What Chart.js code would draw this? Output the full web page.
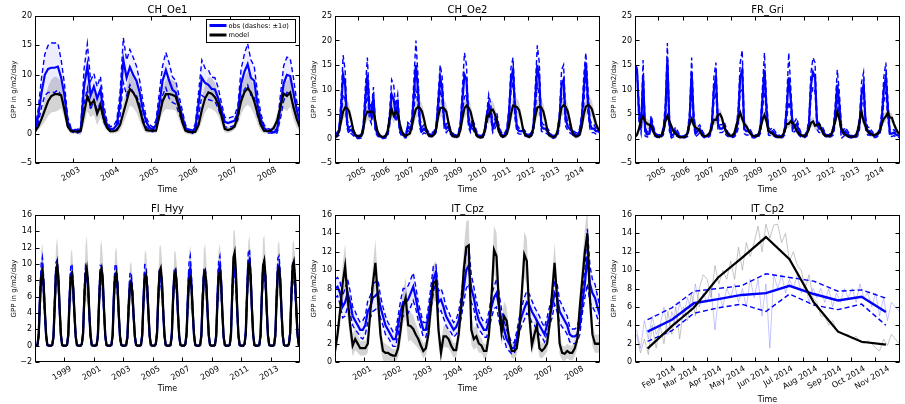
<!DOCTYPE html>
<html>
<head>
<meta charset="utf-8">
<script src="https://cdn.jsdelivr.net/npm/chart.js@4.4.1/dist/chart.umd.min.js"></script>
<style>
  body { margin: 0; background: #fff; width: 905px; height: 404px; overflow: hidden; position: relative; }
  canvas { position: absolute; }
</style>
</head>
<body>
<canvas id="c1"></canvas>
<canvas id="c2"></canvas>
<canvas id="c3"></canvas>
<canvas id="c4"></canvas>
<canvas id="c5"></canvas>
<canvas id="c6"></canvas>
<script>
// ---- CH_Oe1: monthly GPP, Jan 2002 - Oct 2008 ----
const oe1Years = [2003, 2004, 2005, 2006, 2007, 2008];
const oe1Model = [
  0.4,1.2,2.5,4.0,5.5,6.4,6.7,6.7,6.5,4.0,1.2,0.4,
  0.4,0.3,0.5,3.5,6.3,5.0,5.6,3.4,4.8,2.5,1.0,0.4,
  0.4,0.6,1.5,3.5,5.5,7.6,7.0,6.0,4.2,2.0,0.6,0.5,
  0.5,0.5,3.0,5.5,6.7,6.7,6.6,6.3,4.5,2.0,0.5,0.3,
  0.2,0.3,1.5,4.0,6.0,7.0,6.8,6.2,5.0,3.0,0.8,0.6,
  0.8,1.2,3.0,5.5,7.0,7.7,7.0,5.5,3.5,1.5,0.5,0.4,
  0.5,1.0,2.2,4.5,6.8,6.4,7.0,4.5,2.5,1.0
];
const oe1Obs = [
  0.5,3.0,7.0,10.0,11.0,11.2,11.2,11.4,9.5,6.5,2.0,0.7,
  0.4,0.4,0.8,8.0,11.5,6.5,8.0,6.0,7.5,3.5,1.5,0.8,
  0.8,1.5,5.0,12.5,9.5,11.3,10.0,9.0,7.0,4.0,2.0,1.0,
  0.7,1.5,5.0,9.0,10.8,9.0,7.5,7.0,5.0,3.0,1.0,0.5,
  0.3,1.0,5.0,9.5,8.6,8.3,7.6,7.5,6.0,4.0,2.0,1.8,
  2.0,2.2,3.5,8.5,10.5,11.8,9.5,9.0,5.0,2.5,1.0,0.5,
  0.4,0.2,0.5,4.5,8.5,10.0,9.8,7.0,4.0,2.0
];
const oe1Sd = [
  0.4,1.2,2.5,3.5,4.0,4.2,4.2,4.0,3.0,2.0,0.8,0.3,
  0.3,0.3,0.5,3.0,3.8,2.5,2.2,2.0,2.2,1.5,0.6,0.4,
  0.5,0.8,2.0,3.8,3.0,3.0,3.0,2.5,2.0,1.5,0.8,0.5,
  0.4,0.8,2.0,2.5,3.0,3.0,2.2,2.0,1.5,1.0,0.5,0.3,
  0.3,0.6,2.0,3.0,2.5,2.5,2.0,2.0,1.8,1.2,0.8,0.8,
  0.8,0.8,1.2,2.5,3.0,3.5,3.0,2.5,2.0,1.0,0.5,0.4,
  0.3,0.2,0.4,2.0,3.0,3.0,3.0,2.5,1.5,1.0
];
const oe1Spread = [
  0.4,0.6,1.2,2.0,2.5,2.8,3.0,2.8,2.2,1.4,0.6,0.4,
  0.4,0.4,0.8,2.0,2.5,2.2,2.4,2.0,2.0,1.2,0.5,0.4,
  0.4,0.5,1.0,1.8,2.4,2.8,2.6,2.4,2.0,1.2,0.5,0.4,
  0.4,0.5,1.2,2.0,2.5,2.6,2.5,2.4,2.0,1.2,0.5,0.4,
  0.3,0.4,1.0,2.0,2.4,2.6,2.6,2.4,2.0,1.5,0.6,0.5,
  0.5,0.6,1.4,2.2,2.6,2.8,2.6,2.2,1.8,1.0,0.5,0.4,
  0.4,0.6,1.2,2.2,2.5,2.6,2.4,2.0,1.5,0.8
];

// ---- CH_Oe2: monthly GPP, Jan 2004 - Dec 2014 ----
const oe2Years = [2005, 2006, 2007, 2008, 2009, 2010, 2011, 2012, 2013, 2014];
const oe2Model = [
  0.3,0.5,1.5,3.5,5.5,6.3,6.2,5.5,3.8,1.8,0.8,0.5,
  0.4,0.6,2.0,4.5,5.5,5.4,5.5,5.3,3.5,1.5,0.6,0.4,
  0.3,0.5,1.5,4.0,6.0,4.7,5.5,5.0,3.0,1.5,0.7,0.5,
  0.8,1.0,2.5,4.5,6.0,6.4,6.2,5.5,4.0,2.0,0.8,0.5,
  0.5,0.8,2.0,4.5,6.2,6.3,6.1,5.5,3.5,1.5,0.6,0.4,
  0.4,0.5,1.8,4.2,6.2,6.7,6.3,5.5,3.8,1.8,0.6,0.3,
  0.2,0.3,1.5,4.6,4.5,5.8,5.9,5.0,3.5,1.5,0.6,0.4,
  0.5,1.0,2.5,5.0,6.7,6.6,6.4,5.8,4.0,1.8,0.7,0.5,
  0.3,0.6,2.0,4.5,6.3,6.5,6.3,5.5,3.8,1.6,0.6,0.4,
  0.3,0.5,1.5,4.0,6.3,6.8,6.5,5.6,3.8,1.8,0.7,0.4,
  0.5,0.8,2.5,5.0,6.5,6.8,6.6,6.0,4.5,3.0,2.0,1.5
];
const oe2Obs = [
  0.5,0.8,1.5,6.0,13.0,11.0,3.0,1.5,1.8,1.2,0.6,0.3,
  0.3,0.5,2.0,8.0,13.0,6.0,4.5,8.5,2.0,1.0,0.5,0.3,
  0.2,0.4,1.0,4.0,9.0,8.0,5.0,7.0,2.0,1.0,0.6,0.4,
  2.5,2.0,3.0,9.0,15.0,10.0,3.0,1.5,2.0,1.5,1.0,0.8,
  0.8,1.0,2.0,7.0,12.5,10.0,3.0,2.0,2.5,1.5,0.8,0.5,
  0.5,0.8,2.5,8.0,13.0,12.0,3.5,2.0,3.0,2.0,1.0,0.5,
  0.3,0.5,1.5,4.0,7.0,5.5,2.0,3.0,4.0,2.0,1.0,0.5,
  0.8,1.5,5.0,12.0,14.0,6.0,2.0,1.5,1.5,1.5,1.0,0.8,
  0.5,0.8,2.0,8.0,15.0,12.0,2.5,2.0,2.0,1.5,1.0,0.5,
  0.3,0.5,1.0,4.0,11.0,12.0,4.0,2.5,2.0,1.5,1.0,0.8,
  0.8,1.5,4.0,10.0,15.5,8.0,3.0,2.0,2.0,1.5,1.5,1.2
];
const oe2Sd = [
  0.3,0.4,0.8,2.0,4.0,3.0,1.0,0.7,0.8,0.6,0.4,0.3,
  0.3,0.4,0.8,2.5,3.5,2.0,1.5,2.0,0.8,0.5,0.3,0.3,
  0.2,0.3,0.6,1.5,3.0,3.0,1.5,2.0,0.8,0.5,0.4,0.3,
  0.8,0.8,1.2,3.0,5.0,3.0,1.0,0.8,0.8,0.6,0.5,0.4,
  0.4,0.5,0.8,2.0,2.5,2.5,1.0,0.8,0.8,0.6,0.4,0.3,
  0.3,0.4,1.0,2.5,4.5,3.0,1.2,0.8,1.0,0.8,0.5,0.3,
  0.3,0.3,0.6,1.2,2.0,1.5,0.8,1.0,1.2,0.8,0.5,0.3,
  0.4,0.6,1.5,2.5,2.5,2.0,0.8,0.6,0.6,0.6,0.5,0.4,
  0.3,0.4,0.8,2.5,4.0,3.5,1.0,0.8,0.8,0.6,0.5,0.3,
  0.3,0.3,0.5,1.5,3.0,3.0,1.5,0.8,0.8,0.6,0.5,0.4,
  0.4,0.6,1.5,3.0,2.0,2.5,1.0,0.8,0.8,0.6,0.6,0.5
];
const oe2Spread = [
  0.4,0.5,1.0,1.5,1.8,1.8,1.8,1.6,1.3,0.9,0.5,0.4,
  0.4,0.5,1.1,1.6,1.8,1.7,1.8,1.6,1.2,0.8,0.5,0.4,
  0.3,0.5,1.0,1.5,1.9,1.6,1.7,1.5,1.2,0.8,0.5,0.4,
  0.5,0.6,1.2,1.6,1.8,1.9,1.8,1.6,1.3,0.9,0.5,0.4,
  0.4,0.5,1.0,1.5,1.8,1.8,1.8,1.6,1.2,0.8,0.5,0.4,
  0.4,0.5,1.0,1.6,1.9,1.9,1.8,1.6,1.3,0.9,0.5,0.3,
  0.3,0.4,1.0,1.5,1.6,1.8,1.8,1.5,1.2,0.8,0.5,0.4,
  0.4,0.6,1.2,1.6,1.9,1.9,1.8,1.7,1.3,0.9,0.5,0.4,
  0.4,0.5,1.0,1.5,1.8,1.8,1.8,1.6,1.3,0.8,0.5,0.4,
  0.3,0.5,1.0,1.5,1.8,1.9,1.8,1.6,1.3,0.9,0.5,0.4,
  0.4,0.6,1.2,1.6,1.9,1.9,1.8,1.7,1.4,1.0,0.8,0.6
];

// ---- FR_Gri: monthly GPP, Jan 2004 - Dec 2014 ----
const griYears = [2005, 2006, 2007, 2008, 2009, 2010, 2011, 2012, 2013, 2014];
const griModel = [
  0.3,0.8,2.0,3.8,4.5,3.5,3.0,2.8,2.5,1.5,0.6,0.4,
  0.3,0.6,1.5,3.5,4.6,3.5,2.5,1.5,1.0,0.6,0.3,0.3,
  0.3,0.4,1.2,3.0,4.0,2.8,2.2,2.0,1.5,0.8,0.5,0.5,
  0.7,1.2,2.5,3.8,3.8,4.8,5.0,4.2,2.5,1.5,0.8,0.6,
  0.6,1.0,2.5,4.0,5.3,4.0,3.0,2.5,1.8,1.0,0.6,0.5,
  0.4,0.8,2.0,3.8,4.8,3.5,1.5,1.2,1.0,0.6,0.4,0.3,
  0.3,0.6,1.5,3.0,3.0,3.5,3.2,2.5,1.5,1.0,0.7,0.5,
  0.5,1.0,2.0,3.2,3.5,2.6,2.8,3.0,2.0,1.0,0.6,0.5,
  0.5,0.8,2.0,3.5,5.5,4.0,2.0,1.2,0.8,0.5,0.4,0.4,
  0.4,0.5,1.5,3.5,5.5,3.5,2.5,1.5,1.0,0.8,0.6,0.8,
  1.0,1.5,3.0,4.0,4.5,5.3,4.3,4.2,3.0,2.0,1.2,0.8
];
const griObs = [
  14.5,14.0,5.0,2.0,12.5,1.5,0.8,1.0,3.5,2.0,0.8,0.5,
  0.5,0.6,1.5,5.0,16.0,3.0,0.5,0.8,1.5,1.0,0.5,0.3,
  0.3,0.5,1.0,4.0,13.5,4.0,1.0,1.5,2.0,1.2,0.6,0.4,
  0.5,0.8,3.0,10.0,12.5,3.0,2.0,2.0,2.5,1.5,0.8,0.5,
  0.5,0.6,1.5,4.0,12.5,14.0,2.0,1.5,1.5,1.2,0.6,0.4,
  0.5,0.6,2.0,8.0,14.0,6.0,1.5,1.2,1.5,1.0,0.6,0.5,
  0.3,0.5,1.5,6.0,12.5,8.0,2.0,2.5,3.0,1.5,0.8,0.5,
  0.5,1.0,3.0,11.0,13.5,12.5,3.0,2.0,2.0,1.5,0.8,0.5,
  0.5,0.8,1.5,5.0,11.0,7.0,1.5,1.0,1.5,1.0,0.6,0.4,
  0.3,0.5,1.0,3.0,9.0,11.0,3.0,1.5,1.5,1.0,0.6,0.5,
  0.8,1.5,4.0,10.0,12.5,6.0,1.0,1.0,1.2,0.8,0.6,0.5
];
const griSd = [
  0.5,0.5,2.0,1.0,3.5,1.0,0.5,0.6,1.2,0.8,0.4,0.3,
  0.3,0.3,0.8,2.0,3.5,1.5,0.4,0.5,0.8,0.6,0.3,0.2,
  0.2,0.3,0.6,1.5,3.0,1.5,0.6,0.8,0.8,0.6,0.4,0.3,
  0.3,0.4,1.2,2.5,3.0,1.2,0.8,0.8,1.0,0.8,0.4,0.3,
  0.3,0.3,0.8,2.0,3.0,4.0,1.0,0.8,0.8,0.6,0.4,0.3,
  0.3,0.3,1.0,2.5,3.5,2.0,0.8,0.6,0.8,0.6,0.4,0.3,
  0.2,0.3,0.8,2.0,5.0,2.5,1.0,1.0,1.2,0.8,0.5,0.3,
  0.3,0.5,1.2,2.5,3.0,3.0,1.2,0.8,0.8,0.6,0.4,0.3,
  0.3,0.4,0.8,2.0,3.0,2.5,1.5,0.6,0.8,0.6,0.4,0.3,
  0.2,0.3,0.6,1.2,2.5,2.5,1.2,0.8,0.8,0.6,0.4,0.3,
  0.4,0.6,1.5,2.5,3.0,2.0,0.6,0.6,0.6,0.5,0.4,0.3
];
const griSpread = [
  0.3,0.4,0.7,0.9,1.0,1.0,1.0,0.9,0.8,0.6,0.4,0.3,
  0.3,0.4,0.6,0.9,1.0,0.9,0.8,0.7,0.6,0.4,0.3,0.3,
  0.3,0.3,0.6,0.8,1.0,0.9,0.8,0.8,0.6,0.4,0.3,0.3,
  0.4,0.5,0.8,1.0,1.0,1.1,1.1,1.0,0.8,0.6,0.4,0.4,
  0.4,0.5,0.8,1.0,1.1,1.0,0.9,0.8,0.7,0.5,0.4,0.3,
  0.3,0.4,0.7,1.0,1.0,0.9,0.7,0.6,0.5,0.4,0.3,0.3,
  0.3,0.4,0.6,0.9,0.9,1.0,1.0,0.9,0.7,0.5,0.4,0.3,
  0.3,0.5,0.7,0.9,1.0,0.9,0.9,0.9,0.7,0.5,0.4,0.3,
  0.3,0.4,0.7,1.0,1.1,1.0,0.8,0.6,0.5,0.4,0.3,0.3,
  0.3,0.4,0.6,0.9,1.1,1.0,0.8,0.6,0.5,0.4,0.4,0.4,
  0.5,0.6,0.9,1.0,1.0,1.1,1.0,1.0,0.8,0.6,0.5,0.4
];

// ---- FI_Hyy: monthly GPP, Jan 1997 - Dec 2014 ----
const hyyYears = [1999, 2001, 2003, 2005, 2007, 2009, 2011, 2013];
const hyyModel = [
  0,0,0.1,1.2,5.3,8.4,9.0,7.6,4.3,1.4,0.1,0,
  0,0,0.1,1.0,4.8,8.8,9.9,8.4,4.6,1.4,0.1,0,
  0,0,0.1,1.2,5.3,8.3,8.7,7.2,4.0,1.2,0.1,0,
  0,0,0.2,1.4,5.8,8.8,9.5,7.9,4.3,1.4,0.1,0,
  0,0,0.1,1.1,5.3,9.0,9.5,8.2,4.4,1.3,0.1,0,
  0,0,0.1,1.2,5.8,8.5,8.9,7.4,3.8,1.1,0.1,0,
  0,0,0.1,1.0,4.6,7.3,7.7,6.6,3.8,1.2,0.1,0,
  0,0,0.1,1.2,5.3,8.3,8.7,7.4,4.2,1.3,0.1,0,
  0,0,0.2,1.4,5.8,9.1,9.5,8.0,4.4,1.4,0.1,0,
  0,0,0.1,1.2,5.4,8.7,9.1,7.6,4.0,1.2,0.1,0,
  0,0,0.2,1.4,5.3,8.0,8.3,7.2,4.1,1.4,0.1,0,
  0,0,0.1,1.2,5.4,8.7,9.1,7.8,4.3,1.3,0.1,0,
  0,0,0.1,1.1,5.2,8.5,9.0,7.7,4.1,1.2,0.1,0,
  0,0,0.1,1.3,6.3,10.8,11.4,9.2,4.8,1.4,0.1,0,
  0,0,0.2,1.4,5.8,9.5,10.1,8.4,4.6,1.4,0.1,0,
  0,0,0.1,1.2,5.8,9.8,10.4,8.6,4.6,1.3,0.1,0,
  0,0,0.1,1.2,5.6,9.1,9.5,8.0,4.3,1.3,0.1,0,
  0,0,0.2,1.4,6.0,9.8,10.3,8.4,4.6,1.4,0.1,0
];
const hyyObs = [
  0,0,0.1,1.4,5.8,8.8,9.5,7.4,4.0,1.2,0.1,0,
  0,0,0.1,1.2,5.3,9.1,9.5,7.9,4.3,1.3,0.1,0,
  0,0,0.1,1.4,5.8,8.8,9.0,6.9,3.8,1.1,0.1,0,
  0,0,0.2,1.6,6.0,8.8,8.8,7.4,4.0,1.3,0.1,0,
  0,0,0.1,1.2,5.6,8.8,9.0,7.6,4.2,1.2,0.1,0,
  0,0,0.1,1.4,6.3,8.8,8.8,7.2,3.6,1.0,0.1,0,
  0,0,0.1,1.2,5.0,7.8,8.0,6.4,3.6,1.1,0.1,0,
  0,0,0.1,1.4,5.6,8.8,8.8,7.2,4.0,1.2,0.1,0,
  0,0,0.2,1.6,6.0,8.5,8.5,7.4,4.2,1.3,0.1,0,
  0,0,0.1,1.4,5.8,8.5,8.5,7.2,3.8,1.1,0.1,0,
  0,0,0.2,1.6,5.8,9.1,9.5,7.4,4.0,1.3,0.1,0,
  0,0,0.1,1.4,5.8,8.5,8.5,7.4,4.1,1.2,0.1,0,
  0,0,0.1,1.3,5.8,9.3,9.8,7.9,4.0,1.1,0.1,0,
  0,0,0.1,1.5,6.3,9.3,9.5,8.2,4.4,1.3,0.1,0,
  0,0,0.2,1.6,6.3,10.1,10.5,8.4,4.4,1.3,0.1,0,
  0,0,0.1,1.4,6.0,9.3,9.5,8.0,4.3,1.2,0.1,0,
  0,0,0.1,1.4,6.0,9.5,9.8,7.9,4.1,1.2,0.1,0,
  0,0,0.2,1.6,6.3,9.1,9.0,7.6,4.3,1.3,0.1,0
];
const hyySd = [
  0,0,0.1,0.4,1.0,1.2,1.3,1.0,0.6,0.3,0.1,0,
  0,0,0.1,0.4,1.0,1.1,1.0,1.0,0.6,0.3,0.1,0,
  0,0,0.1,0.4,0.9,1.0,1.0,0.9,0.5,0.3,0.1,0,
  0,0,0.1,0.5,1.0,1.0,0.6,0.9,0.6,0.3,0.1,0,
  0,0,0.1,0.4,1.0,1.0,0.7,1.0,0.6,0.3,0.1,0,
  0,0,0.1,0.4,1.0,1.2,1.0,0.9,0.5,0.3,0.1,0,
  0,0,0.1,0.4,0.9,1.0,1.0,0.8,0.5,0.3,0.1,0,
  0,0,0.1,0.4,1.0,1.1,1.0,0.9,0.6,0.3,0.1,0,
  0,0,0.1,0.5,1.0,1.0,1.0,1.0,0.6,0.3,0.1,0,
  0,0,0.1,0.4,1.0,1.0,1.0,0.9,0.5,0.3,0.1,0,
  0,0,0.1,0.5,1.0,1.2,1.5,1.0,0.6,0.3,0.1,0,
  0,0,0.1,0.4,1.0,1.0,1.0,0.9,0.6,0.3,0.1,0,
  0,0,0.1,0.4,1.0,1.2,1.2,1.0,0.5,0.3,0.1,0,
  0,0,0.1,0.5,1.1,1.0,1.0,1.0,0.6,0.3,0.1,0,
  0,0,0.1,0.5,1.1,1.3,1.3,1.0,0.6,0.3,0.1,0,
  0,0,0.1,0.4,1.0,1.0,1.0,1.0,0.6,0.3,0.1,0,
  0,0,0.1,0.4,1.0,1.2,1.2,1.0,0.5,0.3,0.1,0,
  0,0,0.1,0.5,1.1,1.0,1.0,1.0,0.6,0.3,0.1,0
];
const hyySpread = [
  0.1,0.1,0.3,0.8,2.0,3.2,3.5,2.5,1.4,0.5,0.2,0.1,
  0.1,0.1,0.3,0.8,2.2,3.4,3.3,2.6,1.5,0.5,0.2,0.1,
  0.1,0.1,0.3,0.8,2.0,3.0,3.2,2.4,1.4,0.5,0.2,0.1,
  0.1,0.1,0.3,0.9,2.2,3.5,4.0,2.6,1.5,0.5,0.2,0.1,
  0.1,0.1,0.3,0.8,2.0,3.2,3.4,2.6,1.4,0.5,0.2,0.1,
  0.1,0.1,0.3,0.8,2.0,3.0,3.2,2.4,1.3,0.5,0.2,0.1,
  0.1,0.1,0.3,0.7,1.8,2.6,2.6,2.2,1.2,0.4,0.2,0.1,
  0.1,0.1,0.3,0.8,2.0,3.0,3.0,2.4,1.4,0.5,0.2,0.1,
  0.1,0.1,0.3,0.9,2.2,3.0,2.8,2.6,1.5,0.5,0.2,0.1,
  0.1,0.1,0.3,0.8,2.0,2.8,2.5,2.4,1.4,0.5,0.2,0.1,
  0.1,0.1,0.3,0.9,2.0,3.4,4.0,2.4,1.4,0.5,0.2,0.1,
  0.1,0.1,0.3,0.8,2.0,3.0,3.5,2.5,1.4,0.5,0.2,0.1,
  0.1,0.1,0.3,0.8,2.0,3.2,3.5,2.5,1.4,0.5,0.2,0.1,
  0.1,0.1,0.3,0.9,2.4,3.2,2.8,2.8,1.6,0.5,0.2,0.1,
  0.1,0.1,0.3,0.9,2.2,3.2,3.4,2.6,1.5,0.5,0.2,0.1,
  0.1,0.1,0.3,0.8,2.2,3.2,3.2,2.6,1.5,0.5,0.2,0.1,
  0.1,0.1,0.3,0.8,2.0,3.2,3.4,2.5,1.4,0.5,0.2,0.1,
  0.1,0.1,0.3,0.9,2.2,2.8,2.6,2.6,1.5,0.5,0.2,0.1
];

// ---- IT_Cpz: monthly GPP, Jan 2000 - Oct 2008 ----
const cpzYears = [2001, 2002, 2003, 2004, 2005, 2006, 2007, 2008];
const cpzModel = [
  1.2,3.0,5.5,8.5,10.4,7.0,4.0,1.8,2.5,2.0,1.5,1.5,
  1.5,2.0,5.5,8.5,10.8,7.0,3.0,1.2,1.0,1.0,0.8,0.7,
  0.7,1.5,3.5,6.0,7.0,4.0,3.9,3.6,3.0,2.5,1.8,1.2,
  1.5,3.0,6.0,8.6,8.8,3.5,1.0,2.8,2.8,2.5,1.8,1.3,
  1.3,3.0,6.0,10.0,12.5,12.7,3.5,2.5,2.8,2.0,1.8,1.2,
  1.2,3.0,7.0,12.2,11.5,6.0,3.2,5.0,4.5,2.5,1.2,1.2,
  1.5,3.5,7.5,11.7,11.0,5.0,1.8,3.0,4.0,1.5,1.2,1.5,
  2.0,4.0,7.5,10.8,7.0,2.0,1.0,0.9,1.2,1.0,1.0,1.5,
  2.5,6.0,9.0,12.0,14.0,7.0,3.0,2.0,2.0,2.0
];
const cpzObs = [
  8.0,8.2,7.5,6.0,6.5,7.5,6.5,5.0,4.5,4.0,3.5,3.5,
  4.0,5.5,6.0,7.0,7.2,7.5,6.0,5.0,4.0,3.5,3.0,2.5,
  2.5,4.0,5.5,6.5,6.5,6.8,7.5,8.2,7.0,5.5,4.5,3.5,
  3.5,5.0,7.0,9.0,9.8,6.5,6.8,6.0,5.0,4.5,4.0,3.5,
  3.8,4.5,6.0,8.0,10.0,10.5,8.0,7.0,5.5,4.5,4.0,3.5,
  3.5,4.5,6.0,7.0,7.5,6.0,4.5,3.5,2.5,2.0,1.5,1.5,
  2.5,4.0,5.0,5.8,6.5,6.2,5.5,5.0,4.5,4.0,3.5,3.0,
  4.0,5.0,6.0,7.5,7.0,5.5,5.0,4.5,4.0,3.0,2.8,2.8,
  3.0,4.0,6.5,8.5,11.5,8.5,7.5,7.0,6.0,5.0
];
const cpzSd = [
  1.0,1.0,1.2,1.2,1.5,1.5,1.2,1.0,1.0,0.8,0.8,1.0,
  1.0,1.2,1.2,1.5,1.5,1.5,1.2,1.0,1.0,0.8,0.8,0.8,
  0.8,1.0,1.2,1.5,1.5,1.5,1.5,1.5,1.2,1.0,0.8,0.8,
  0.8,1.0,1.2,1.5,0.8,1.2,1.2,1.2,1.0,1.0,0.8,0.8,
  0.8,1.0,1.2,1.5,2.0,2.0,1.5,1.2,1.2,1.0,0.8,0.8,
  0.8,1.0,1.2,1.2,1.5,1.5,1.2,1.0,1.0,0.8,0.6,0.6,
  0.8,0.8,1.0,1.2,1.2,1.2,1.2,1.0,1.0,1.0,0.8,0.8,
  0.8,1.0,1.2,1.2,1.5,1.2,1.2,1.0,1.0,0.8,0.8,0.8,
  0.8,1.0,1.2,1.5,3.0,2.0,1.5,1.5,1.2,1.0
];
const cpzSpread = [
  0.8,1.2,1.5,2.0,2.5,2.2,1.5,1.2,1.2,1.0,0.8,0.8,
  0.8,1.0,1.5,2.0,2.5,2.2,1.4,1.0,1.0,0.8,0.8,0.7,
  0.7,1.0,1.4,1.8,2.2,1.8,1.5,1.5,1.2,1.0,0.8,0.8,
  0.8,1.2,1.6,2.0,2.2,1.8,1.0,1.2,1.2,1.0,0.8,0.8,
  0.8,1.2,1.6,2.2,2.8,2.8,1.6,1.2,1.2,1.0,0.8,0.8,
  0.8,1.2,1.8,2.6,2.6,2.0,1.4,1.6,1.5,1.0,0.8,0.8,
  0.8,1.2,1.8,2.5,2.5,1.8,1.0,1.2,1.4,1.0,0.8,0.8,
  0.9,1.4,1.8,2.2,2.0,1.2,0.8,0.8,0.8,0.8,0.8,0.9,
  1.0,1.6,2.0,2.5,3.0,2.2,1.2,1.0,1.0,1.0
];

// ---- IT_Cp2: 2014, monthly means at mid-month plus 5-day samples of the daily series ----
const cp2MonthDays = [14, 45, 73, 104, 134, 165, 195, 226, 257, 287, 318];
const cp2Model = [1.45, 3.9, 5.9, 9.2, 11.3, 13.6, 11.2, 6.5, 3.3, 2.2, 1.9];
const cp2Obs = [3.3, 4.6, 6.4, 6.85, 7.3, 7.5, 8.3, 7.4, 6.7, 7.1, 5.45];
const cp2ObsHi = [4.6, 5.9, 7.7, 8.0, 8.3, 9.6, 9.2, 8.8, 7.7, 7.85, 6.95];
const cp2ObsLo = [2.25, 3.4, 5.3, 5.9, 6.3, 5.5, 7.4, 6.2, 5.7, 6.3, 4.0];
const cp2ModelDaily = [
  3.0,1.0,2.5,0.8,4.0,1.5,
  4.0,2.0,5.5,3.0,6.0,2.5,
  6.0,4.5,7.5,5.0,8.0,9.5,
  9.0,7.0,10.5,8.5,10.0,9.0,
  11.0,9.0,12.5,10.0,13.0,11.5,
  13.0,14.8,12.0,15.0,13.5,14.9,
  15.0,13.0,14.0,11.0,12.0,10.5,
  10.0,8.0,9.5,7.0,6.5,5.0,
  5.0,4.0,4.5,3.5,3.2,3.0,
  3.0,2.5,2.8,2.2,2.0,2.3,
  2.0,1.5,1.2,2.5,1.8,3.0,
  2.5,2.0
];
const cp2ObsDaily = [
  3.5,1.5,4.5,2.5,5.0,3.0,
  4.0,6.0,3.0,5.5,4.0,6.5,
  5.0,7.0,5.5,8.5,6.0,7.5,
  6.5,8.0,3.5,7.5,6.0,8.0,
  7.0,8.5,6.5,8.0,6.0,9.0,
  7.0,9.0,5.0,8.5,1.5,9.5,
  8.0,9.5,7.5,9.0,8.0,9.5,
  7.5,8.5,6.5,8.0,7.0,8.0,
  6.5,8.0,6.0,7.5,6.5,8.0,
  7.0,8.0,6.5,8.5,7.0,7.5,
  6.0,7.5,5.0,7.0,4.5,6.5,
  6.0,5.5
];
const cp2MonthTicks = [31, 59, 90, 120, 151, 181, 212, 243, 273, 304];
const cp2MonthLabels = ['Feb 2014', 'Mar 2014', 'Apr 2014', 'May 2014', 'Jun 2014',
  'Jul 2014', 'Aug 2014', 'Sep 2014', 'Oct 2014', 'Nov 2014'];

const FONT = 'DejaVu Sans';
const BLUE = '#0000ff';
Chart.defaults.font.family = FONT;

// mid-month positions in decimal years
function monthX(startYear, n) {
  return Array.from({ length: n }, (_, i) => startYear + (i + 0.5) / 12);
}
function pts(xs, ys) { return xs.map((x, i) => ({ x, y: ys[i] })); }
function add(a, b, s) { return a.map((v, i) => v + s * b[i]); }

function line(data, color, width, extra) {
  return Object.assign({ data, borderColor: color, borderWidth: width, pointRadius: 0, fill: false }, extra || {});
}

// standard set: model band, obs band with +-1 sd dashes, obs mean, model mean
function monthlySets(start, model, obs, sd, spread) {
  const xs = monthX(start, model.length);
  return [
    line(pts(xs, model), '#000', 2.2, { order: 0 }),
    line(pts(xs, obs), BLUE, 2.2, { order: 1 }),
    line(pts(xs, add(obs, sd, -1)), BLUE, 1.4, { order: 2, borderDash: [5, 3] }),
    line(pts(xs, add(obs, sd, 1)), BLUE, 1.4, { order: 2, borderDash: [5, 3], fill: '-1', backgroundColor: 'rgba(60,60,255,0.09)' }),
    line(pts(xs, add(model, spread, -1)), 'rgba(0,0,0,0)', 0, { order: 4 }),
    line(pts(xs, add(model, spread, 1)), 'rgba(0,0,0,0)', 0, { order: 4, fill: '-1', backgroundColor: 'rgba(120,120,120,0.32)' })
  ];
}

function cp2Sets() {
  const dailyX = cp2ModelDaily.map((_, i) => i * 5);
  return [
    line(pts(cp2MonthDays, cp2Model), '#000', 2.2, { order: 0 }),
    line(pts(cp2MonthDays, cp2Obs), BLUE, 2.4, { order: 1 }),
    line(pts(cp2MonthDays, cp2ObsHi), BLUE, 1.4, { order: 2, borderDash: [5, 3] }),
    line(pts(cp2MonthDays, cp2ObsLo), BLUE, 1.4, { order: 2, borderDash: [5, 3] }),
    line(pts(dailyX, cp2ObsDaily), 'rgba(90,90,255,0.35)', 1, { order: 3 }),
    line(pts(dailyX, cp2ModelDaily), 'rgba(150,150,150,0.55)', 1, { order: 4 })
  ];
}

// axes frame with inward ticks on all four sides, panel title, legend
const frame = {
  id: 'frame',
  afterDraw(chart, args, opts) {
    const { ctx, chartArea: a, scales: { x, y } } = chart;
    const L = Math.round(a.left) + 0.5, R = Math.round(a.right) - 0.5;
    const T = Math.round(a.top) + 0.5, B = Math.round(a.bottom) - 0.5;
    ctx.save();
    ctx.strokeStyle = '#000';
    ctx.lineWidth = 1;
    ctx.strokeRect(L, T, R - L, B - T);
    ctx.beginPath();
    x.ticks.forEach(t => {
      const px = Math.round(x.getPixelForValue(t.value)) + 0.5;
      ctx.moveTo(px, B); ctx.lineTo(px, B - 4);
      ctx.moveTo(px, T); ctx.lineTo(px, T + 4);
    });
    y.ticks.forEach(t => {
      const py = Math.round(y.getPixelForValue(t.value)) + 0.5;
      ctx.moveTo(L, py); ctx.lineTo(L + 4, py);
      ctx.moveTo(R, py); ctx.lineTo(R - 4, py);
    });
    ctx.stroke();

    ctx.fillStyle = '#000';
    ctx.font = '10px "' + FONT + '"';
    ctx.textAlign = 'center';
    ctx.textBaseline = 'alphabetic';
    ctx.fillText(opts.title, (a.left + a.right) / 2, a.top - 2.7);

    if (opts.legend) {
      const bx = a.right - 93.5, by = a.top + 3.5;
      ctx.fillStyle = '#fff';
      ctx.fillRect(bx, by, 89, 23);
      ctx.strokeRect(bx, by, 89, 23);
      ctx.lineWidth = 3;
      ctx.strokeStyle = BLUE;
      ctx.beginPath(); ctx.moveTo(bx + 3, by + 6); ctx.lineTo(bx + 20, by + 6); ctx.stroke();
      ctx.strokeStyle = '#000';
      ctx.beginPath(); ctx.moveTo(bx + 3, by + 15.5); ctx.lineTo(bx + 20, by + 15.5); ctx.stroke();
      ctx.fillStyle = '#000';
      ctx.font = '6.6px "' + FONT + '"';
      ctx.textAlign = 'left';
      ctx.textBaseline = 'middle';
      ctx.fillText('obs (dashes: \u00b11\u03c3)', bx + 22, by + 6.5);
      ctx.fillText('model', bx + 22, by + 16);
    }
    ctx.restore();
  }
};

function panel(p) {
  const cv = document.getElementById(p.id);
  cv.width = p.w; cv.height = p.h;
  cv.style.left = p.left + 'px'; cv.style.top = p.top + 'px';
  cv.style.width = p.w + 'px'; cv.style.height = p.h + 'px';
  const axisH = p.h - p.padTop - 147;
  new Chart(cv, {
    type: 'line',
    data: { datasets: p.datasets },
    plugins: [frame],
    options: {
      responsive: false,
      animation: false,
      devicePixelRatio: 1,
      layout: { padding: { top: p.padTop, right: 2, left: 0, bottom: 0 } },
      plugins: {
        legend: { display: false },
        tooltip: { enabled: false },
        frame: { title: p.title, legend: !!p.legend }
      },
      scales: {
        x: {
          type: 'linear',
          min: p.xMin, max: p.xMax,
          afterFit: s => { s.height = axisH; },
          afterBuildTicks: s => { s.ticks = p.xTicks.map(v => ({ value: v })); },
          grid: { display: false, drawTicks: false },
          border: { display: false },
          ticks: {
            autoSkip: false, minRotation: 30, maxRotation: 30,
            padding: 2, labelOffset: p.labelOffset,
            color: '#000', font: { size: 8 },
            callback: (v, i) => p.xLabels[i]
          },
          title: { display: true, text: 'Time', color: '#000', font: { size: 8 }, padding: { top: 0, bottom: 5 } }
        },
        y: {
          min: p.yMin, max: p.yMax,
          afterFit: s => { s.width = 35; },
          grid: { display: false, drawTicks: false },
          border: { display: false },
          ticks: {
            stepSize: p.yStep, padding: 3, color: '#000', font: { size: 8 },
            callback: v => String(v).replace('-', '\u2212')
          },
          title: { display: true, text: 'GPP in g/m2/day', color: '#000', font: { size: 7 }, padding: { top: 9.8, bottom: 0 } }
        }
      }
    }
  });
}

const TOP = { top: 0, h: 200, padTop: 16 };
const BOT = { top: 200, h: 199, padTop: 15 };

panel(Object.assign({ id: 'c1', left: 0, w: 302, title: 'CH_Oe1', legend: true,
  xMin: 2002 + 0.5 / 12, xMax: 2008 + 9.5 / 12, xTicks: oe1Years, xLabels: oe1Years.map(String), labelOffset: 7,
  yMin: -5, yMax: 20, yStep: 5,
  datasets: monthlySets(2002, oe1Model, oe1Obs, oe1Sd, oe1Spread) }, TOP));

panel(Object.assign({ id: 'c2', left: 300, w: 302, title: 'CH_Oe2',
  xMin: 2004 + 0.5 / 12, xMax: 2014 + 11.5 / 12, xTicks: oe2Years, xLabels: oe2Years.map(String), labelOffset: 7,
  yMin: -5, yMax: 25, yStep: 5,
  datasets: monthlySets(2004, oe2Model, oe2Obs, oe2Sd, oe2Spread) }, TOP));

panel(Object.assign({ id: 'c3', left: 600, w: 302, title: 'FR_Gri',
  xMin: 2004 + 0.5 / 12, xMax: 2014 + 11.5 / 12, xTicks: griYears, xLabels: griYears.map(String), labelOffset: 7,
  yMin: -5, yMax: 25, yStep: 5,
  datasets: monthlySets(2004, griModel, griObs, griSd, griSpread) }, TOP));

panel(Object.assign({ id: 'c4', left: 0, w: 302, title: 'FI_Hyy',
  xMin: 1997 + 0.5 / 12, xMax: 2014 + 11.5 / 12, xTicks: hyyYears, xLabels: hyyYears.map(String), labelOffset: 7,
  yMin: -2, yMax: 16, yStep: 2,
  datasets: monthlySets(1997, hyyModel, hyyObs, hyySd, hyySpread) }, BOT));

panel(Object.assign({ id: 'c5', left: 300, w: 302, title: 'IT_Cpz',
  xMin: 2000 + 0.5 / 12, xMax: 2008 + 9.5 / 12, xTicks: cpzYears, xLabels: cpzYears.map(String), labelOffset: 7,
  yMin: 0, yMax: 16, yStep: 2,
  datasets: monthlySets(2000, cpzModel, cpzObs, cpzSd, cpzSpread) }, BOT));

panel({ id: 'c6', left: 600, top: 200, w: 302, h: 210, padTop: 15, title: 'IT_Cp2',
  xMin: -2, xMax: 336, xTicks: cp2MonthTicks, xLabels: cp2MonthLabels, labelOffset: 14,
  yMin: 0, yMax: 16, yStep: 2,
  datasets: cp2Sets() });
</script>
</body>
</html>
